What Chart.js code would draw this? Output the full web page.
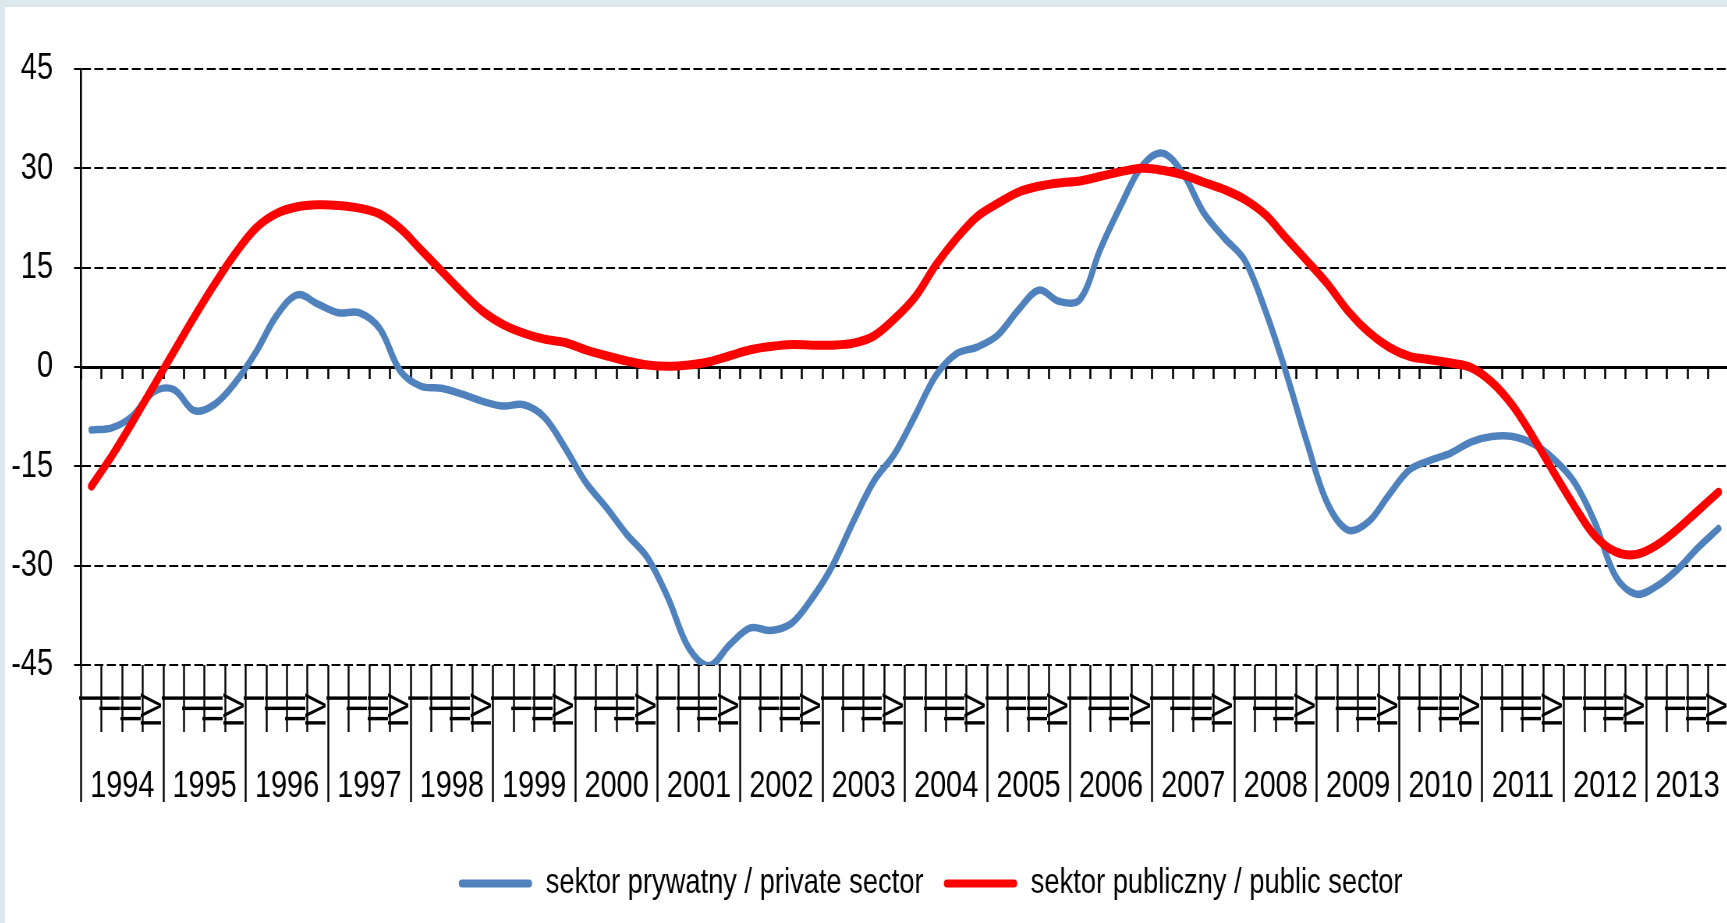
<!DOCTYPE html>
<html>
<head>
<meta charset="utf-8">
<script src="https://cdn.jsdelivr.net/npm/chart.js@4.4.1/dist/chart.umd.min.js"></script>
<style>
html,body{margin:0;padding:0;overflow:hidden;background:#dde8ec;width:1727px;height:923px;}
#wrap{position:absolute;left:5px;top:7px;width:1730px;height:916px;background:#fff;overflow:hidden;}
#c{position:absolute;left:0;top:0;transform:scaleX(0.78);transform-origin:0 0;}
</style>
</head>
<body>
<div id="wrap"><canvas id="c" width="2218" height="916"></canvas></div>
<script>
const years = ['1994','1995','1996','1997','1998','1999','2000','2001','2002','2003','2004','2005','2006','2007','2008','2009','2010','2011','2012','2013'];
const quarterNames = ['I','II','III','IV'];
const quarterLabels = years.flatMap(() => quarterNames);

const privateSector = [
  -9.5, -9.2, -7.4, -3.8,   -3.4, -6.6, -5.6, -2.3,   2.3, 7.8, 10.9, 9.5,    8.2, 8.2, 5.8, -0.6,
  -2.9, -3.2, -4.1, -5.2,   -5.9, -5.7, -7.6, -12.2,  -17.4, -21.2, -25.3, -28.8,  -34.9, -42.4, -45.1, -41.9,
  -39.4, -39.8, -38.7, -34.9,  -29.9, -23.3, -17.2, -13.1,  -7.3, -1.3, 2.0, 3.0,   4.8, 8.6, 11.6, 9.9,
  10.2, 17.9, 24.5, 30.3,   32.3, 29.2, 23.3, 19.5,   16.1, 8.5, -0.8, -11.2,   -20.5, -24.6, -23.4, -19.3,
  -15.5, -14.1, -13.0, -11.3,  -10.5, -10.5, -11.6, -13.9,  -17.4, -23.5, -31.6, -34.3,  -33.1, -30.6, -27.3, -24.4
];
const publicSector = [
  -18.0, -13.4, -8.3, -3.0,   2.3, 7.6, 12.6, 17.2,   21.0, 23.2, 24.2, 24.5,   24.4, 24.0, 23.1, 20.9,
  17.7, 14.5, 11.3, 8.4,   6.4, 5.1, 4.2, 3.7,   2.6, 1.7, 0.9, 0.3,   0.1, 0.3, 0.8, 1.7,
  2.6, 3.1, 3.4, 3.3,   3.3, 3.6, 4.7, 7.3,   10.6, 15.4, 19.4, 22.7,   24.7, 26.4, 27.3, 27.8,
  28.1, 28.8, 29.5, 30.0,   29.7, 29.0, 27.9, 26.8,   25.3, 23.0, 19.5, 16.1,   12.6, 8.5, 5.3, 3.0,
  1.6, 1.1, 0.6, -0.1,   -2.3, -5.8, -10.6, -15.9,   -21.0, -25.5, -27.9, -28.3,   -26.9, -24.5, -21.7, -18.9
];
const yTicks = [-45, -30, -15, 0, 15, 30, 45];
const seriesNames = ['sektor prywatny / private sector', 'sektor publiczny / public sector'];

const FONT = "'Liberation Sans', Arial, sans-serif";
const LEGEND_SHIFT = { x: 33, y: -7 };

const legendOffset = {
  id: 'legendOffset',
  afterLayout(chart) {
    const l = chart.legend;
    if (!l) return;
    l.left += LEGEND_SHIFT.x; l.right += LEGEND_SHIFT.x;
    l.top += LEGEND_SHIFT.y; l.bottom += LEGEND_SHIFT.y;
  }
};

new Chart(document.getElementById('c'), {
  type: 'line',
  data: {
    labels: quarterLabels,
    datasets: [
      { label: seriesNames[0], data: privateSector, borderColor: '#4F81BD', backgroundColor: '#4F81BD',
        borderWidth: 7.5, pointRadius: 0, tension: 0.35, borderCapStyle: 'round', borderJoinStyle: 'round',
        order: 1, xAxisID: 'x', yAxisID: 'y' },
      { label: seriesNames[1], data: publicSector, borderColor: '#FF0000', backgroundColor: '#FF0000',
        borderWidth: 9, pointRadius: 0, tension: 0.35, borderCapStyle: 'round', borderJoinStyle: 'round',
        order: 0, xAxisID: 'x', yAxisID: 'y' }
    ]
  },
  plugins: [legendOffset],
  options: {
    responsive: false, maintainAspectRatio: false, animation: false, devicePixelRatio: 1,
    layout: { padding: { top: 62, right: 8, bottom: 5, left: 0 } },
    plugins: {
      tooltip: { enabled: false },
      legend: {
        position: 'bottom', fullSize: false,
        labels: {
          font: { family: FONT, size: 35 }, color: '#000',
          boxWidth: 94, boxHeight: 8, padding: 26,
          sort: (a, b) => a.datasetIndex - b.datasetIndex,
          generateLabels(chart) {
            const items = Chart.defaults.plugins.legend.labels.generateLabels(chart);
            items.forEach(it => { it.fillStyle = it.strokeStyle; it.lineWidth = 0; it.borderRadius = 4; });
            return items;
          }
        }
      }
    },
    scales: {
      y: {
        min: yTicks[0], max: yTicks[yTicks.length - 1],
        ticks: { stepSize: 15, font: { family: FONT, size: 37 }, color: '#000', padding: 27 },
        grid: { color: '#000', lineWidth: 2, tickLength: 9, tickWidth: 2, tickColor: '#000' },
        border: { display: true, color: '#000', width: 2.6, dash: [11.5, 4.5] },
        afterFit(s) { s.width = 97.5; }
      },
      x: {
        type: 'category', position: 'bottom', weight: 0, offset: true,
        grid: { offset: true, drawOnChartArea: false, tickLength: 67, tickWidth: 2.4, tickColor: '#000', color: '#000' },
        border: { display: false },
        ticks: { autoSkip: false, maxRotation: 90, minRotation: 90, font: { family: FONT, size: 37 }, color: '#000', padding: -39 },
        afterFit(s) { s.height = 67; }
      },
      x2: {
        type: 'category', labels: years, position: 'bottom', weight: 1, offset: true,
        grid: { offset: true, drawOnChartArea: false, tickLength: 70, tickWidth: 2.4, tickColor: '#000', color: '#000' },
        border: { display: false },
        ticks: { autoSkip: false, maxRotation: 0, minRotation: 0, font: { family: FONT, size: 37 }, color: '#000', padding: -37 },
        afterFit(s) { s.height = 115; }
      },
      x0: {
        type: 'category', position: { y: 0 }, offset: true,
        grid: { offset: true, drawOnChartArea: false, tickLength: 10, tickWidth: 2.6, tickColor: '#000', color: '#000' },
        border: { display: true, color: '#000', width: 3 },
        ticks: { display: false }
      }
    }
  }
});
</script>
</body>
</html>
